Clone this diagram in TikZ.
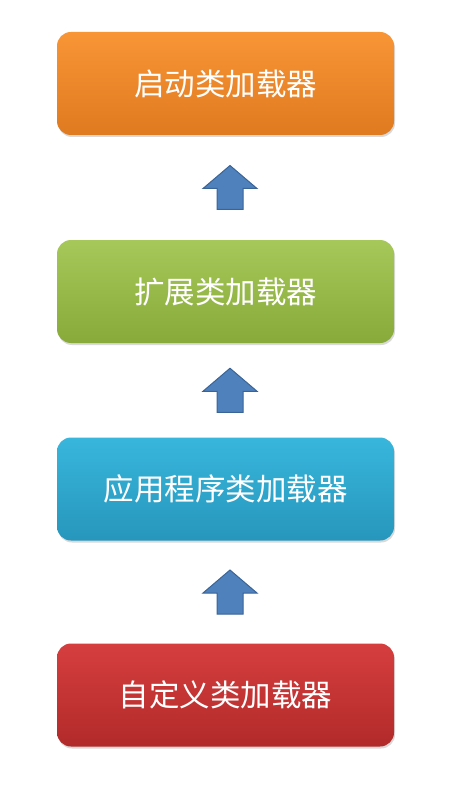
\documentclass[tikz,border=0pt]{standalone}
\usepackage{fontspec}
\newfontfamily\cjk{Noto Sans CJK SC}
\usetikzlibrary{shadows,calc}

\definecolor{orangetop}{HTML}{F89535}
\definecolor{orangebot}{HTML}{E07A20}
\definecolor{greentop}{HTML}{A6C85A}
\definecolor{greenbot}{HTML}{88AA3A}
\definecolor{bluetop}{HTML}{38B6DC}
\definecolor{bluebot}{HTML}{2796BC}
\definecolor{redtop}{HTML}{D63E3E}
\definecolor{redbot}{HTML}{B22A2A}
\definecolor{arrowfill}{HTML}{4F81BD}
\definecolor{arrowline}{HTML}{3A6496}

\begin{document}
\begin{tikzpicture}[x = 1pt, y = 1pt,
  loader/.style = {rounded corners = 14pt, minimum width = 337pt, minimum height = 103pt,
    text = white, font = \cjk\fontsize{30.5}{34}\selectfont,
    drop shadow = {opacity = 0.3, shadow xshift = 1pt, shadow yshift = -2pt}},
  blockup/.pic = {\draw[draw = arrowline, fill = arrowfill, line width = 1pt, line join = miter]
    (-13,-22) -- (-13,-1) -- (-27,-1) -- (0,22) -- (27,-1) -- (13,-1) -- (13,-22) -- cycle;}]

\useasboundingbox (0,0) rectangle (468,-786);

\node[loader, top color = orangetop, bottom color = orangebot] (boot) at (225.5,-83.5) {启动类加载器};
\node[loader, top color = greentop, bottom color = greenbot] (ext) at (225.5,-291.5) {扩展类加载器};
\node[loader, top color = bluetop, bottom color = bluebot] (app) at (225.5,-489) {应用程序类加载器};
\node[loader, top color = redtop, bottom color = redbot] (custom) at (225.5,-695) {自定义类加载器};

\pic (up1) at ($(boot.south)!0.5!(ext.north) + (4.5,0)$) {blockup};
\pic (up2) at ($(ext.south)!0.5!(app.north) + (4.5,0)$) {blockup};
\pic (up3) at ($(app.south)!0.5!(custom.north) + (4.5,0)$) {blockup};

\end{tikzpicture}
\end{document}
